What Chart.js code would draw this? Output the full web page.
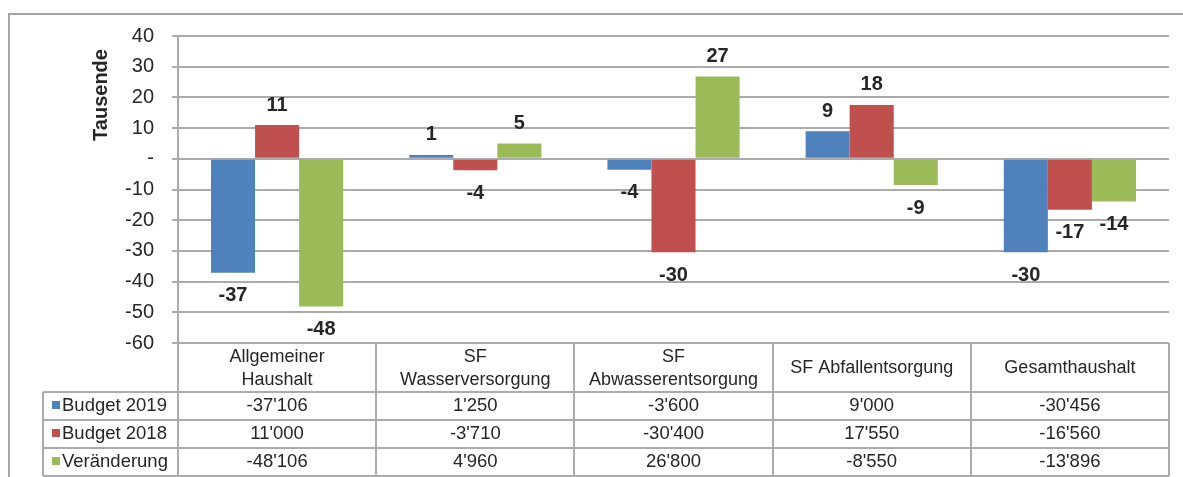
<!DOCTYPE html>
<html><head><meta charset="utf-8">
<script src="https://cdn.jsdelivr.net/npm/chart.js@4.4.1/dist/chart.umd.min.js"></script>
<style>html,body{margin:0;padding:0;background:#fff}#wrap{position:relative;width:1183px;height:477px}</style>
</head><body><div id="wrap"><canvas id="c"></canvas></div>
<script>
// ---- data ----
const categories = [["Allgemeiner","Haushalt"],["SF","Wasserversorgung"],["SF","Abwasserentsorgung"],["SF Abfallentsorgung"],["Gesamthaushalt"]];
const seriesNames = ["Budget 2019","Budget 2018","Veränderung"];
const budget2019 = [-37106, 1250, -3600, 9000, -30456];
const budget2018 = [11000, -3710, -30400, 17550, -16560];
const veraenderung = [-48106, 4960, 26800, -8550, -13896];
const yTickValues = [40, 30, 20, 10, 0, -10, -20, -30, -40, -50, -60];
const yTitle = "Tausende";

// ---- styles ----
const seriesColors = ["#4f81bd", "#c0504d", "#9bbb59"];
const FONT = "'Liberation Sans', Arial, sans-serif";
const TEXT = "#262626";
const LINE = "#ababab";

const seriesData = [budget2019, budget2018, veraenderung];

function fmt(v){
  const s = v < 0 ? "-" : "";
  return s + Math.abs(v).toString().replace(/\B(?=(\d{3})+(?!\d))/g, "'");
}
function roundAway(v){ return Math.sign(v) * Math.round(Math.abs(v)); }

const extras = {
  id: "extras",
  beforeDraw(chart){
    const ctx = chart.ctx;
    ctx.save();
    ctx.fillStyle = "#fff";
    ctx.fillRect(0, 0, chart.width, chart.height);
    ctx.strokeStyle = "#a6a6a6";
    ctx.lineWidth = 2;
    ctx.beginPath();
    ctx.moveTo(9, chart.height + 5);
    ctx.lineTo(9, 14);
    ctx.lineTo(chart.width + 5, 14);
    ctx.stroke();
    ctx.restore();
  },
  afterDatasetsDraw(chart){
    const ctx = chart.ctx;
    ctx.save();
    ctx.font = "bold 20px " + FONT;
    ctx.fillStyle = TEXT;
    ctx.textAlign = "center";
    ctx.textBaseline = "middle";
    chart.data.datasets.forEach((ds, di) => {
      const meta = chart.getDatasetMeta(di);
      meta.data.forEach((bar, i) => {
        const v = ds.data[i];
        const y = v >= 0 ? bar.y - 20 : bar.y + 23;
        ctx.fillText(String(roundAway(v)), bar.x, y);
      });
    });
    ctx.restore();
  },
  afterDraw(chart){
    const ctx = chart.ctx;
    const area = chart.chartArea;
    const x = chart.scales.x;
    const n = categories.length;
    const cw = (area.right - area.left) / n;
    const tableTop = area.bottom;
    const headBottom = 392;
    const rowH = 28;
    const tableBottom = headBottom + rowH * seriesData.length;
    const legendLeft = 43;
    ctx.save();
    ctx.font = "bold 20px " + FONT;
    ctx.fillStyle = TEXT;
    ctx.textAlign = "center";
    ctx.textBaseline = "alphabetic";
    ctx.translate(107, 95);
    ctx.rotate(-Math.PI / 2);
    ctx.fillText(yTitle, 0, 0);
    ctx.setTransform(1, 0, 0, 1, 0, 0);

    ctx.strokeStyle = LINE;
    ctx.lineWidth = 2;
    ctx.beginPath();
    for (let i = 0; i <= n; i++) {
      const xx = Math.round(area.left + cw * i);
      ctx.moveTo(xx, tableTop);
      ctx.lineTo(xx, tableBottom);
    }
    ctx.moveTo(legendLeft, headBottom);
    ctx.lineTo(legendLeft, tableBottom);
    for (let r = 0; r <= seriesData.length; r++) {
      const yy = headBottom + rowH * r;
      ctx.moveTo(legendLeft, yy);
      ctx.lineTo(area.right, yy);
    }
    ctx.stroke();

    ctx.font = "18px " + FONT;
    ctx.fillStyle = TEXT;
    ctx.textAlign = "center";
    ctx.textBaseline = "middle";
    const headMid = (tableTop + headBottom) / 2 + 1;
    categories.forEach((lines, i) => {
      const cx = x.getPixelForValue(i);
      const lh = 22.5;
      const start = headMid - (lines.length - 1) * lh / 2;
      lines.forEach((t, k) => ctx.fillText(t, cx, start + k * lh));
    });
    ctx.font = "18.5px " + FONT;
    seriesData.forEach((arr, r) => {
      const cy = headBottom + rowH * r + rowH / 2;
      ctx.fillStyle = seriesColors[r];
      ctx.fillRect(52, Math.round(cy - 5), 8, 8);
      ctx.fillStyle = TEXT;
      ctx.textAlign = "left";
      ctx.fillText(seriesNames[r], 62, cy);
      ctx.textAlign = "center";
      arr.forEach((v, i) => ctx.fillText(fmt(v), x.getPixelForValue(i), cy));
    });
    ctx.restore();
  }
};

new Chart(document.getElementById("c"), {
  type: "bar",
  data: {
    labels: categories.map(c => c.join(" ")),
    datasets: seriesData.map((arr, i) => ({
      label: seriesNames[i],
      data: arr.map(v => v / 1000),
      backgroundColor: seriesColors[i],
      borderWidth: 0,
      categoryPercentage: 0.667,
      barPercentage: 1.0
    }))
  },
  options: {
    responsive: true,
    maintainAspectRatio: false,
    animation: false,
    events: [],
    layout: { padding: { top: 36, right: 14, bottom: 134, left: 0 } },
    plugins: { legend: { display: false }, tooltip: { enabled: false } },
    scales: {
      x: { display: false },
      y: {
        min: yTickValues[yTickValues.length - 1],
        max: yTickValues[0],
        afterFit(scale){ scale.width = 178; },
        afterBuildTicks(scale){ scale.ticks = yTickValues.slice().reverse().map(v => ({ value: v })); },
        ticks: {
          padding: 18,
          color: TEXT,
          font: { family: FONT, size: 20 },
          callback: v => v === 0 ? "-" : String(v)
        },
        grid: { color: LINE, lineWidth: 2, tickLength: 6, drawTicks: true },
        border: { display: true, color: LINE, width: 2 }
      }
    }
  },
  plugins: [extras]
});
</script></body></html>
